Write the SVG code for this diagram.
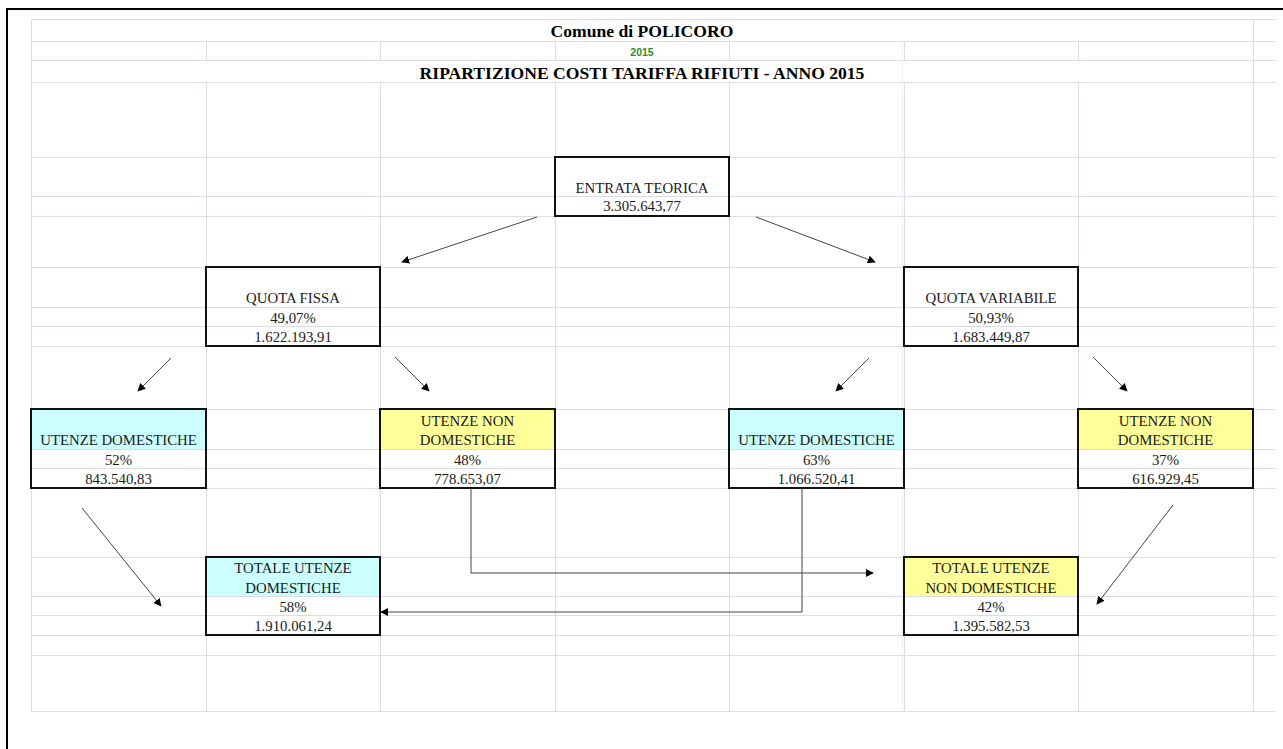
<svg xmlns="http://www.w3.org/2000/svg" width="1283" height="749" viewBox="0 0 1283 749">
<style>
.g{stroke:#dadde8;stroke-width:1;fill:none}
.box{fill:none;stroke:#111;stroke-width:2}
.t{font-family:"Liberation Serif","Times New Roman",serif;font-size:14.8px;fill:#1a1a1a;text-anchor:middle}
.h{font-family:"Liberation Serif","Times New Roman",serif;font-weight:bold;font-size:17.6px;fill:#000;text-anchor:middle}
.c{fill:#ccffff}
.y{fill:#ffff99}
.a{stroke:#444;stroke-width:1;fill:none;marker-end:url(#ah)}
</style>
<defs>
<marker id="ah" viewBox="0 0 10 10" refX="9" refY="5" markerWidth="8" markerHeight="8" markerUnits="userSpaceOnUse" orient="auto">
<path d="M0,0 L10,5 L0,10 z" fill="#000"/>
</marker>
</defs>
<rect x="0" y="0" width="1283" height="749" fill="#fff"/>
<g id="grid">
<path class="g" d="M31,19.5H1275 M31,41.5H1275 M31,60.5H1275 M31,82.5H1275 M31,157.5H1275 M31,196.5H1275 M31,216.5H1275 M31,267.5H1275 M31,307.5H1275 M31,326.5H1275 M31,346.5H1275 M31,409.5H1275 M31,449.5H1275 M31,468.5H1275 M31,488.5H1275 M31,557.5H1275 M31,596.5H1275 M31,615.5H1275 M31,635.5H1275 M31,655.5H1275 M31,711.5H1275"/>
<path class="g" d="M31.5,19V711 M1253.5,19V711 M206.5,41V60 M380.5,41V60 M555.5,41V60 M729.5,41V60 M904.5,41V60 M1078.5,41V60 M206.5,82V711 M380.5,82V711 M555.5,82V711 M729.5,82V711 M904.5,82V711 M1078.5,82V711"/>
<path d="M902.5,41V711" stroke="#eef0f5" stroke-width="1"/>
</g>
<path d="M7,749V9H1283" fill="none" stroke="#000" stroke-width="2"/>
<g id="header">
<text class="h" x="642" y="37">Comune di POLICORO</text>
<text x="642" y="56" font-family="Liberation Sans,Arial,sans-serif" font-weight="bold" font-size="10.5" fill="#2a8f2a" text-anchor="middle">2015</text>
<text class="h" x="642" y="78.5">RIPARTIZIONE COSTI TARIFFA RIFIUTI - ANNO 2015</text>
</g>
<g id="entrata">
<rect class="box" x="555" y="157" width="174" height="59"/>
<text class="t" x="642" y="193">ENTRATA TEORICA</text>
<text class="t" x="642" y="211">3.305.643,77</text>
</g>
<g id="quota-fissa">
<rect class="box" x="206" y="267" width="174" height="79"/>
<text class="t" x="293" y="303">QUOTA FISSA</text>
<text class="t" x="293" y="323">49,07%</text>
<text class="t" x="293" y="342">1.622.193,91</text>
</g>
<g id="quota-variabile">
<rect class="box" x="904" y="267" width="174" height="79"/>
<text class="t" x="991" y="303">QUOTA VARIABILE</text>
<text class="t" x="991" y="323">50,93%</text>
<text class="t" x="991" y="342">1.683.449,87</text>
</g>
<g id="ud-fissa">
<rect class="c" x="31" y="409" width="175" height="40"/>
<rect class="box" x="31" y="409" width="175" height="79"/>
<text class="t" x="118.5" y="445">UTENZE DOMESTICHE</text>
<text class="t" x="118.5" y="465">52%</text>
<text class="t" x="118.5" y="484">843.540,83</text>
</g>
<g id="und-fissa">
<rect class="y" x="380" y="409" width="175" height="40"/>
<rect class="box" x="380" y="409" width="175" height="79"/>
<text class="t" x="467.5" y="426">UTENZE NON</text>
<text class="t" x="467.5" y="445">DOMESTICHE</text>
<text class="t" x="467.5" y="465">48%</text>
<text class="t" x="467.5" y="484">778.653,07</text>
</g>
<g id="ud-variabile">
<rect class="c" x="729" y="409" width="175" height="40"/>
<rect class="box" x="729" y="409" width="175" height="79"/>
<text class="t" x="816.5" y="445">UTENZE DOMESTICHE</text>
<text class="t" x="816.5" y="465">63%</text>
<text class="t" x="816.5" y="484">1.066.520,41</text>
</g>
<g id="und-variabile">
<rect class="y" x="1078" y="409" width="175" height="40"/>
<rect class="box" x="1078" y="409" width="175" height="79"/>
<text class="t" x="1165.5" y="426">UTENZE NON</text>
<text class="t" x="1165.5" y="445">DOMESTICHE</text>
<text class="t" x="1165.5" y="465">37%</text>
<text class="t" x="1165.5" y="484">616.929,45</text>
</g>
<g id="totale-ud">
<rect class="c" x="206" y="557" width="174" height="39"/>
<rect class="box" x="206" y="557" width="174" height="78"/>
<text class="t" x="293" y="573">TOTALE UTENZE</text>
<text class="t" x="293" y="593">DOMESTICHE</text>
<text class="t" x="293" y="612">58%</text>
<text class="t" x="293" y="631">1.910.061,24</text>
</g>
<g id="totale-und">
<rect class="y" x="904" y="557" width="174" height="39"/>
<rect class="box" x="904" y="557" width="174" height="78"/>
<text class="t" x="991" y="573">TOTALE UTENZE</text>
<text class="t" x="991" y="593">NON DOMESTICHE</text>
<text class="t" x="991" y="612">42%</text>
<text class="t" x="991" y="631">1.395.582,53</text>
</g>
<g id="connectors">
<path class="a" d="M537,217L402,262"/>
<path class="a" d="M756,217L875,262"/>
<path class="a" d="M171,358L138,391"/>
<path class="a" d="M395,357L429,391"/>
<path class="a" d="M869,358L836,391"/>
<path class="a" d="M1093,357L1127,391"/>
<path class="a" d="M82,508L161,606"/>
<path class="a" d="M1173,505L1097,604"/>
<path class="a" d="M471,488V573H873"/>
<path class="a" d="M802,488V612H381"/>
</g>
</svg>
